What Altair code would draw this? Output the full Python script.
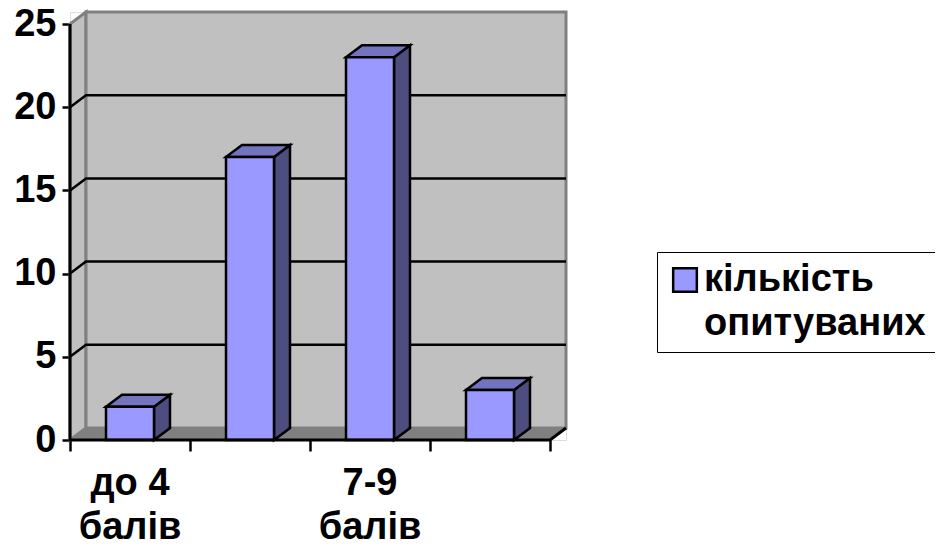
import altair as alt
import pandas as pd

# ---- values
categories = ["до 4\nбалів", "", "7-9\nбалів", ""]
values = [2, 17, 23, 3]
legend_lines = ["\u00a0кількість", "опитуваних"]
y_ticks = [0, 5, 10, 15, 20, 25]
grid_levels = [5, 10, 15, 20]

# ---- geometry of the fake 3-D box, in data units
DX = 16 / 120
DY = 12 / 16.64
BAR_START = 0.3
BAR_W = 0.4
N = len(categories)
TOP = 25
FONT = "Liberation Sans"
FS = 38

xs = alt.Scale(domain=[0, N + DX], range=[0, 496], nice=False, zero=False)
ys = alt.Scale(domain=[0, TOP + DY], range=[428, 0], nice=False, zero=False)
X = alt.X(
    "x:Q", scale=xs, title=None,
    axis=alt.Axis(
        values=list(range(N + 1)), domain=False, grid=False, labels=False,
        tickColor="black", tickWidth=2.5, tickSize=11,
    ),
)
Y = alt.Y(
    "y:Q", scale=ys, title=None,
    axis=alt.Axis(
        values=y_ticks, domain=False, grid=False, tickColor="black", tickWidth=2.5,
        tickSize=8, labelFont=FONT, labelFontWeight="bold", labelFontSize=FS,
        labelColor="black", labelPadding=6,
    ),
)


def poly(pts, color, stroke=None, sw=0):
    """Filled shape drawn as an area over (x, y, y2) rows."""
    df = pd.DataFrame(pts, columns=["pid", "x", "y", "y2"])
    kw = dict(fill=color, opacity=1, clip=False)
    if stroke:
        kw.update(stroke=stroke, strokeWidth=sw, strokeJoin="miter")
    return alt.Chart(df).mark_area(**kw).encode(
        x=X, y=Y, y2="y2:Q", detail="pid:N"
    )


left_wall = poly([(0, 0, 0, TOP), (0, DX, DY, TOP + DY)], "#C0C0C0", "#808080", 3)
back_wall = poly([(0, DX, DY, TOP + DY), (0, N + DX, DY, TOP + DY)], "#C0C0C0", "#808080", 3)
floor = poly(
    [(0, 0, 0, 0), (0, DX, DY, 0), (0, N, DY, 0), (0, N + DX, DY, DY)], "#808080"
)

grid_rows = []
for v in grid_levels:
    grid_rows += [(v, 0, v), (v, DX, v + DY), (v, N + DX, v + DY)]
grid = alt.Chart(pd.DataFrame(grid_rows, columns=["g", "x", "y"])).mark_line(
    color="black", strokeWidth=2.5
).encode(x=X, y=Y, detail="g:N")

frame = alt.Chart(
    pd.DataFrame([(0, 0, TOP), (1, 0, 0), (2, N, 0), (3, N + DX, DY)], columns=["o", "x", "y"])
).mark_line(color="black", strokeWidth=3).encode(x=X, y=Y, order="o:O")

side_rows, top_rows, front_rows = [], [], []
for i, v in enumerate(values):
    a = i + BAR_START
    b = a + BAR_W
    side_rows += [(i, b, v, 0), (i, b + DX, v + DY, DY)]
    top_rows += [(i, a, v, v), (i, a + DX, v + DY, v), (i, b, v + DY, v), (i, b + DX, v + DY, v + DY)]
    front_rows.append((a, b, v, legend_lines[0]))

side = poly(side_rows, "#4D4D80", "black", 2.5)
top = poly(top_rows, "#7373BF", "black", 2.5)

legend_def = alt.Legend(
    title=None,
    orient="none",
    legendX=587,
    legendY=240,
    symbolType="square",
    symbolSize=560,
    symbolOffset=0,
    symbolStrokeWidth=2.5,
    symbolOpacity=1,
    labelFont=FONT,
    labelFontWeight="bold",
    labelFontSize=FS,
    labelColor="black",
    labelLimit=400,
    labelOffset=0,
    rowPadding=6,
    values=legend_lines,
    fillColor="white",
    strokeColor="black",
    padding=9,
)

front = alt.Chart(pd.DataFrame(front_rows, columns=["x", "x2", "y", "series"])).mark_bar(
    strokeWidth=2.5, opacity=1
).encode(
    x=X,
    x2="x2:Q",
    y=Y,
    y2=alt.Y2(datum=0),
    color=alt.Color(
        "series:N",
        scale=alt.Scale(domain=legend_lines, range=["#9999FF", "transparent"]),
        legend=legend_def,
    ),
    stroke=alt.Stroke(
        "series:N",
        scale=alt.Scale(domain=legend_lines, range=["black", "transparent"]),
        legend=legend_def,
    ),
)

labels = alt.Chart(
    pd.DataFrame({"x": [i + 0.5 for i in range(N)], "y": [0] * N, "t": categories})
).mark_text(
    font=FONT, fontWeight="bold", fontSize=FS, color="black", lineBreak="\n",
    lineHeight=44, baseline="alphabetic", align="center", yOffset=55,
).encode(x=X, y=Y, text="t:N")

chart = alt.layer(
    left_wall, back_wall, floor, grid, side, top, front, frame, labels
).properties(
    width=496,
    height=428,
    autosize=alt.AutoSizeParams(type="none"),
    padding={"left": 62, "top": 4, "right": 369, "bottom": 100},
).configure_view(stroke=None).configure_legend(strokeWidth=2.5).configure(background="white")

chart.save("out.html", embed_options={"renderer": "svg", "actions": False})
